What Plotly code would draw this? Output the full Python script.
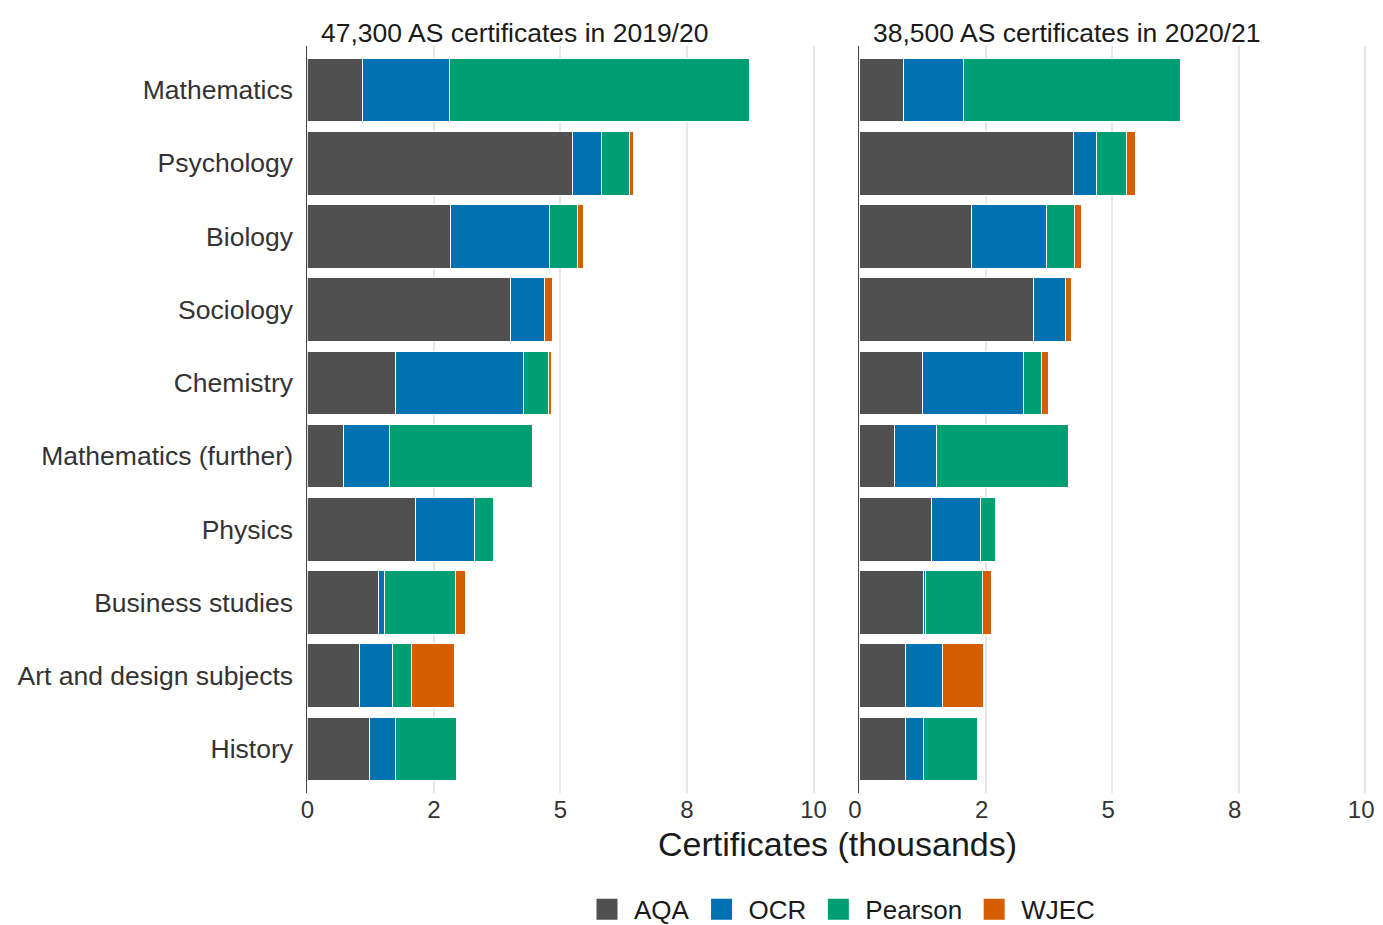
import plotly.graph_objects as go
from plotly.subplots import make_subplots

categories = ["Mathematics", "Psychology", "Biology", "Sociology", "Chemistry",
              "Mathematics (further)", "Physics", "Business studies",
              "Art and design subjects", "History"]

boards = ["AQA", "OCR", "Pearson", "WJEC"]
colors = {"AQA": "#505050", "OCR": "#0072B2", "Pearson": "#009E73", "WJEC": "#D55E00"}

# thousands of certificates, 2019/20
aqa_1920 = [1.09, 5.24, 2.83, 4.01, 1.75, 0.72, 2.13, 1.40, 1.04, 1.22]
ocr_1920 = [1.72, 0.57, 1.96, 0.68, 2.52, 0.91, 1.17, 0.12, 0.65, 0.53]
pearson_1920 = [5.92, 0.55, 0.55, 0.0, 0.50, 2.82, 0.38, 1.40, 0.36, 1.20]
wjec_1920 = [0.0, 0.09, 0.12, 0.15, 0.06, 0.0, 0.0, 0.20, 0.86, 0.0]

# thousands of certificates, 2020/21
aqa_2021 = [0.88, 4.23, 2.23, 3.44, 1.26, 0.71, 1.44, 1.27, 0.91, 0.91]
ocr_2021 = [1.18, 0.47, 1.47, 0.64, 1.98, 0.82, 0.97, 0.05, 0.74, 0.36]
pearson_2021 = [4.30, 0.58, 0.56, 0.0, 0.37, 2.61, 0.29, 1.12, 0.0, 1.08]
wjec_2021 = [0.0, 0.18, 0.14, 0.11, 0.14, 0.0, 0.0, 0.17, 0.81, 0.0]

panel_titles = ["47,300 AS certificates in 2019/20", "38,500 AS certificates in 2020/21"]
tick_vals = [0, 2.5, 5, 7.5, 10]
tick_text = ["0", "2", "5", "8", "10"]
x_title = "Certificates (thousands)"

series = {
    1: {"AQA": aqa_1920, "OCR": ocr_1920, "Pearson": pearson_1920, "WJEC": wjec_1920},
    2: {"AQA": aqa_2021, "OCR": ocr_2021, "Pearson": pearson_2021, "WJEC": wjec_2021},
}

# page body has an 8px margin: work in figure pixels = reference pixels - 8
OFF = 8
W, H = 1383 - 2 * OFF, 925 - OFF
FONT = "Liberation Sans, Arial, sans-serif"

fig = make_subplots(rows=1, cols=2, shared_yaxes=False)

for col in (1, 2):
    for b in boards:
        vals = [v if v > 0 else None for v in series[col][b]]
        fig.add_trace(go.Bar(
            y=categories, x=vals, orientation="h", name=b,
            marker=dict(color=colors[b], line=dict(color="white", width=1)),
            width=0.87, showlegend=False,
        ), row=1, col=col)

# legend entries
for b in boards:
    fig.add_trace(go.Scatter(
        x=[None], y=[None], mode="markers", name=b,
        marker=dict(symbol="square", size=16, color=colors[b],
                    line=dict(color=colors[b], width=5)),
        showlegend=True,
    ), row=1, col=1)

ppu = 50.62
x0_1, x0_2 = 307.3 - OFF, 859.0 - OFF
top, bottom = 46.0 - OFF, 793.5 - OFF
ph = bottom - top
xmax1 = 10.25
xmax2 = (W - x0_2) / ppu


def py(pix):
    return (bottom - (pix - OFF)) / ph


fig.update_layout(
    width=W, height=H, template="none",
    plot_bgcolor="white", paper_bgcolor="white",
    margin=dict(l=0, r=0, t=top, b=H - bottom, autoexpand=False),
    barmode="stack",
    font=dict(family=FONT, color="#333333"),
    legend=dict(orientation="h", x=(840 - OFF) / W, xanchor="center",
                y=py(910), yanchor="middle", traceorder="normal",
                font=dict(size=26, color="#1a1a1a"), itemsizing="trace",
                itemwidth=44, bgcolor="rgba(0,0,0,0)"),
)

for col, x0, xmax in ((1, x0_1, xmax1), (2, x0_2, xmax2)):
    xa = "xaxis" if col == 1 else "xaxis2"
    ya = "yaxis" if col == 1 else "yaxis2"
    fig.layout[xa].update(
        domain=[x0 / W, min(1.0, (x0 + xmax * ppu) / W)], range=[0, xmax],
        tickvals=tick_vals, ticktext=tick_text, showgrid=True,
        gridcolor="#e6e6e6", gridwidth=2, zeroline=False, showline=False,
        ticks="", tickfont=dict(size=24, color="#333333"), automargin=False,
        ticklabelshift=(0 if col == 1 else -4),
    )
    fig.layout[ya].update(
        categoryorder="array", categoryarray=categories,
        range=[9.6, -0.6], showgrid=False, zeroline=False,
        showline=True, linecolor="#444444", linewidth=1,
        ticks="", automargin=False,
        showticklabels=(col == 1), tickfont=dict(size=26.5, color="#333333"),
        ticklabelstandoff=8,
    )

ann = []
for col, x0 in ((1, x0_1), (2, x0_2)):
    ann.append(dict(text=panel_titles[col - 1], xref="paper", yref="paper",
                    x=(x0 + 12) / W, y=py(33),
                    xanchor="left", yanchor="middle", showarrow=False,
                    font=dict(size=26.5, color="#1a1a1a")))
ann.append(dict(text=x_title, xref="paper", yref="paper",
                x=(837 - OFF) / W, y=py(845),
                xanchor="center", yanchor="middle", showarrow=False,
                font=dict(size=34, color="#1a1a1a")))
fig.update_layout(annotations=ann)

fig.write_html("out.html")
